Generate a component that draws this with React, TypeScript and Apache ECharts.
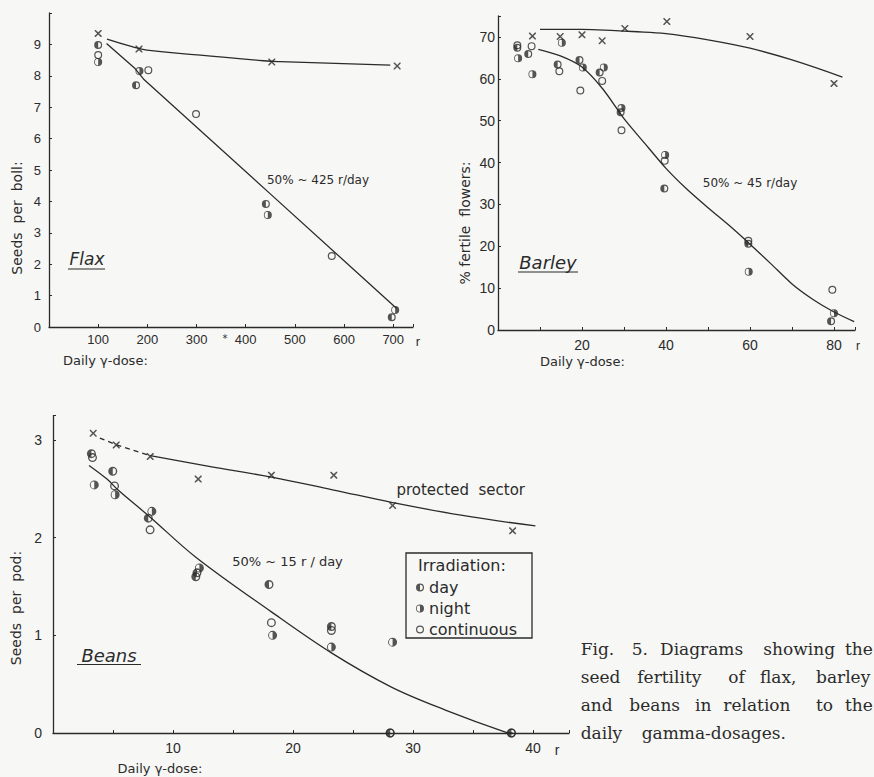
import React, { useEffect, useRef } from "react";
import * as echarts from "echarts";

// ---------------- DATA ----------------
// Flax (x: daily gamma dose r, y: seeds per boll)
const flaxTicksX = [100, 200, 300, 400, 500, 600, 700];
const flaxTicksY = [0, 1, 2, 3, 4, 5, 6, 7, 8, 9];
const flaxProtected = [[100, 9.35], [183, 8.85], [453, 8.44], [708, 8.31]];
const flaxProtectedCurve = [[118, 9.17], [169, 8.93], [199, 8.82], [308, 8.66], [436, 8.48], [470, 8.45], [694, 8.34]];
const flaxFitCurve = [[117, 9.03], [175, 8.23], [192, 7.9], [450, 4.24], [707, 0.59]];
const flaxDay = [[100, 8.98], [177, 7.7], [441, 3.92], [697, 0.31]];
const flaxNight = [[100, 8.44], [184, 8.15], [445, 3.57], [704, 0.54]];
const flaxCont = [[100, 8.66], [202, 8.18], [299, 6.78], [575, 2.26]];

// Barley (y: % fertile flowers)
const barleyTicksX = [20, 40, 60, 80];
const barleyTicksY = [0, 10, 20, 30, 40, 50, 60, 70];
const barleyProtected = [[8.2, 70.2], [14.8, 70.1], [20, 70.5], [24.8, 69.1], [30.2, 72.0], [40.2, 73.7], [60, 70.1], [80, 58.9]];
const barleyProtectedCurve = [[10, 71.8], [20, 71.8], [28, 71.5], [32, 71.3], [40, 70.8], [50, 69.3], [60, 67.3], [70, 64.5], [82, 60.4]];
const barleyFitCurve = [[9.6, 67], [15, 65.4], [20, 62.8], [25, 57.5], [30, 50.5], [35, 44.5], [40, 38.6], [45, 33.6], [50, 29.2], [55, 25], [60, 20.5], [65, 15.8], [70, 11], [75, 7.3], [80, 4.3], [84.8, 2]];
const barleyDay = [[4.6, 67.4], [7.2, 65.9], [14.2, 63.4], [19.4, 64.5], [24.2, 61.5], [29.2, 52], [39.6, 33.8], [59.6, 20.6], [79.3, 2.1]];
const barleyNight = [[4.8, 64.9], [8.2, 61.1], [15.2, 68.6], [20.2, 62.7], [25.2, 62.7], [29.4, 53], [39.8, 41.8], [59.7, 13.9], [80, 4.0]];
const barleyCont = [[4.6, 68], [8.0, 67.8], [14.6, 61.8], [19.6, 57.2], [24.8, 59.5], [29.4, 47.7], [39.7, 40.4], [59.6, 21.3], [79.6, 9.6]];

// Beans (y: seeds per pod)
const beansTicksX = [10, 20, 30, 40];
const beansTicksY = [0, 1, 2, 3];
const beansProtected = [[3.35, 3.07], [5.27, 2.95], [8.1, 2.83], [12.1, 2.6], [18.2, 2.64], [23.4, 2.64], [28.3, 2.33], [38.3, 2.07]];
const beansProtectedDashed = [[3.9, 3.02], [5.3, 2.95], [8.1, 2.84]];
const beansProtectedCurve = [[8.1, 2.84], [13, 2.73], [18.2, 2.62], [23.3, 2.49], [28.3, 2.36], [34, 2.23], [40.2, 2.12]];
const beansFitCurve = [[3.0, 2.74], [4.5, 2.6], [5.4, 2.49], [8.1, 2.21], [11.9, 1.8], [18.2, 1.24], [23.2, 0.82], [28.2, 0.47], [32.7, 0.235], [37.7, 0.01], [38.3, 0]];
const beansDay = [[3.2, 2.86], [4.98, 2.68], [7.94, 2.2], [11.9, 1.6], [12.0, 1.64], [18.0, 1.52], [23.2, 1.09], [28.1, 0], [38.2, 0]];
const beansNight = [[3.44, 2.54], [5.18, 2.44], [8.24, 2.27], [12.2, 1.69], [18.3, 1.0], [23.2, 0.88], [28.3, 0.93]];
const beansCont = [[3.29, 2.82], [5.13, 2.53], [8.09, 2.08], [18.2, 1.13], [23.2, 1.05], [28.1, 0], [38.2, 0]];

const legendNames = ["day", "night", "continuous"];
const captionLines = [
  ["Fig.", "5.", "Diagrams", "showing", "the"],
  ["seed", "fertility", "of", "flax,", "barley"],
  ["and", "beans", "in", "relation", "to", "the"],
  ["daily", "gamma-dosages."],
];

// ---------------- STYLE ----------------
const INK = "#2b2b2b";
const BG = "#f7f7f5";
const SANS = '"DejaVu Sans", sans-serif';
const LSANS = '"Liberation Sans", Arial, sans-serif';
const SERIF = '"DejaVu Serif", serif';

const DAY = "path://M10 0A10 10 0 0 0 10 20Z M10 0A10 10 0 0 1 10 20L10 17A7 7 0 0 0 10 3Z";
const NIGHT = "path://M10 0A10 10 0 0 1 10 20Z M10 0A10 10 0 0 0 10 20L10 18A8 8 0 0 1 10 2Z";
const OPEN = "path://M10 0A10 10 0 1 1 10 20A10 10 0 1 1 10 0Z M10 3A7 7 0 1 0 10 17A7 7 0 1 0 10 3Z";
const CROSS = "path://M0 0L3 0L10 7L17 0L20 0L20 3L13 10L20 17L20 20L17 20L10 13L3 20L0 20L0 17L7 10L0 3Z";

const captionX = [
  [580.7, 631.7, 660, 763.3, 845],
  [580.7, 637.3, 728.3, 760, 816],
  [580.7, 629.3, 695, 723.3, 816, 845],
  [580.7, 641.7],
];
const captionY = [649, 677, 705, 733];

function scatter(name: string, data: number[][], sym: string, size: number, g: number) {
  return {
    type: "scatter", name, data, symbol: sym, symbolSize: size,
    xAxisIndex: g, yAxisIndex: g, itemStyle: { color: INK }, z: 4,
    emphasis: { disabled: true },
  };
}
function curve(name: string, data: number[][], g: number, smooth: boolean | number, dashed = false) {
  return {
    type: "line", name, data, smooth, symbol: "none", xAxisIndex: g, yAxisIndex: g,
    lineStyle: { color: INK, width: 1.3, type: dashed ? [5, 4] : "solid" }, z: 2,
    emphasis: { disabled: true },
  };
}
function xAxis(g: number, max: number, interval: number, ticks: number[], margin: number, fs: number) {
  return {
    type: "value", gridIndex: g, min: 0, max, interval,
    axisLine: { onZero: false, lineStyle: { color: INK, width: 1.3 } },
    axisTick: { inside: true, length: 3, lineStyle: { color: INK, width: 1 } },
    splitLine: { show: false },
    axisLabel: {
      margin, fontFamily: LSANS, fontSize: fs, color: INK,
      formatter: (v: number) => (ticks.indexOf(v) >= 0 ? String(v) : ""),
    },
  };
}
function yAxis(g: number, max: number, interval: number, ticks: number[], margin: number, fs: number) {
  return {
    type: "value", gridIndex: g, min: 0, max, interval,
    axisLine: { show: true, onZero: false, lineStyle: { color: INK, width: 1.3 } },
    axisTick: { show: true, inside: true, length: 3, lineStyle: { color: INK, width: 1 } },
    splitLine: { show: false },
    axisLabel: {
      margin, fontFamily: LSANS, fontSize: fs, color: INK,
      formatter: (v: number) => (ticks.indexOf(v) >= 0 ? String(v) : ""),
    },
  };
}
function txt(text: string, x: number, y: number, fs: number, opts: any = {}) {
  return {
    type: "text", x, y, rotation: opts.rotation || 0,
    style: {
      text, fill: INK, fontSize: fs, fontFamily: opts.family || SANS,
      fontStyle: opts.italic ? "italic" : "normal",
      textAlign: opts.align || "center", textVerticalAlign: "middle",
    },
    z: 10,
  };
}
function uline(x1: number, x2: number, y: number) {
  return { type: "line", shape: { x1, y1: y, x2, y2: y }, style: { stroke: INK, lineWidth: 1.2 }, z: 10 };
}

export default function App() {
  const ref = useRef<HTMLDivElement>(null);
  useEffect(() => {
    if (!ref.current) return;
    const chart = echarts.init(ref.current, null, { renderer: "svg" });
    const caption: any[] = [];
    captionLines.forEach((words, i) =>
      words.forEach((w, j) => caption.push(txt(w, captionX[i][j], captionY[i], 17, { family: SERIF, align: "left" })))
    );
    const option: any = {
      animation: false,
      backgroundColor: BG,
      grid: [
        { left: 49, top: 13, width: 363.9, height: 314 },
        { left: 498, top: 16, width: 357, height: 314 },
        { left: 53, top: 415.6, width: 516, height: 317.4 },
      ],
      xAxis: [
        xAxis(0, 740, 100, flaxTicksX, 6, 13),
        xAxis(1, 85, 10, barleyTicksX, 8, 14),
        xAxis(2, 43, 5, beansTicksX, 8, 14),
      ],
      yAxis: [
        yAxis(0, 10, 1, flaxTicksY, 8, 13),
        yAxis(1, 75, 10, barleyTicksY, 3, 14),
        yAxis(2, 3.25, 1, beansTicksY, 11, 14),
      ],
      legend: {
        orient: "vertical", left: 411, top: 572, itemWidth: 8, itemHeight: 8, itemGap: 0,
        selectedMode: false,
        textStyle: { color: INK, fontFamily: SANS, fontSize: 16, lineHeight: 21 },
        data: [
          { name: legendNames[0], icon: DAY },
          { name: legendNames[1], icon: NIGHT },
          { name: legendNames[2], icon: OPEN },
        ],
      },
      series: [
        curve("protected", flaxProtectedCurve, 0, true),
        curve("fit", flaxFitCurve, 0, false),
        scatter("protected sector", flaxProtected, CROSS, 7, 0),
        scatter("day", flaxDay, DAY, 8, 0),
        scatter("night", flaxNight, NIGHT, 8, 0),
        scatter("continuous", flaxCont, OPEN, 8, 0),

        curve("protected", barleyProtectedCurve, 1, 0.4),
        curve("fit", barleyFitCurve, 1, 0.25),
        scatter("protected sector", barleyProtected, CROSS, 7, 1),
        scatter("day", barleyDay, DAY, 8, 1),
        scatter("night", barleyNight, NIGHT, 8, 1),
        scatter("continuous", barleyCont, OPEN, 8, 1),

        curve("protected", beansProtectedDashed, 2, false, true),
        curve("protected", beansProtectedCurve, 2, 0.4),
        curve("fit", beansFitCurve, 2, 0.35),
        scatter("protected sector", beansProtected, CROSS, 7, 2),
        scatter("day", beansDay, DAY, 9, 2),
        scatter("night", beansNight, NIGHT, 9, 2),
        scatter("continuous", beansCont, OPEN, 9, 2),
      ],
      graphic: [
        // Flax
        txt("50% ~ 425 r/day", 318, 180, 12),
        txt("Flax", 87, 259, 17, { italic: true }),
        uline(68, 105, 269),
        txt("Seeds  per  boll:", 17, 218, 14, { rotation: Math.PI / 2 }),
        txt("Daily γ-dose:", 63, 360, 13, { align: "left" }),
        txt("r", 418, 341, 13, { family: LSANS }),
        txt("*", 225, 338, 10),
        // Barley
        txt("50% ~ 45 r/day", 750, 183, 12),
        txt("Barley", 548, 262, 18, { italic: true }),
        uline(518, 578, 272),
        txt("% fertile  flowers:", 465, 223, 14, { rotation: Math.PI / 2 }),
        txt("Daily γ-dose:", 540, 361, 13, { align: "left" }),
        txt("r", 858, 346, 12, { family: LSANS }),
        // Beans
        txt("50% ~ 15 r / day", 287.5, 561.7, 13),
        txt("protected  sector", 460.7, 490, 15),
        txt("Beans", 109, 655, 18, { italic: true }),
        uline(77, 141, 664.5),
        txt("Seeds  per  pod:", 16, 608, 14, { rotation: Math.PI / 2 }),
        txt("Daily γ-dose:", 160, 768, 13),
        txt("r", 557, 750, 14, { family: LSANS }),
        // Legend frame
        { type: "rect", shape: { x: 406, y: 553, width: 126, height: 85 }, style: { fill: "none", stroke: INK, lineWidth: 1.3 }, z: 9 },
        txt("Irradiation:", 418, 565, 16, { align: "left" }),
        // Caption
        ...caption,
      ],
    };
    chart.setOption(option);
    return () => chart.dispose();
  }, []);
  return (
    <div
      ref={ref}
      style={{ position: "fixed", left: 0, top: 0, width: 874, height: 777, background: BG }}
    />
  );
}
